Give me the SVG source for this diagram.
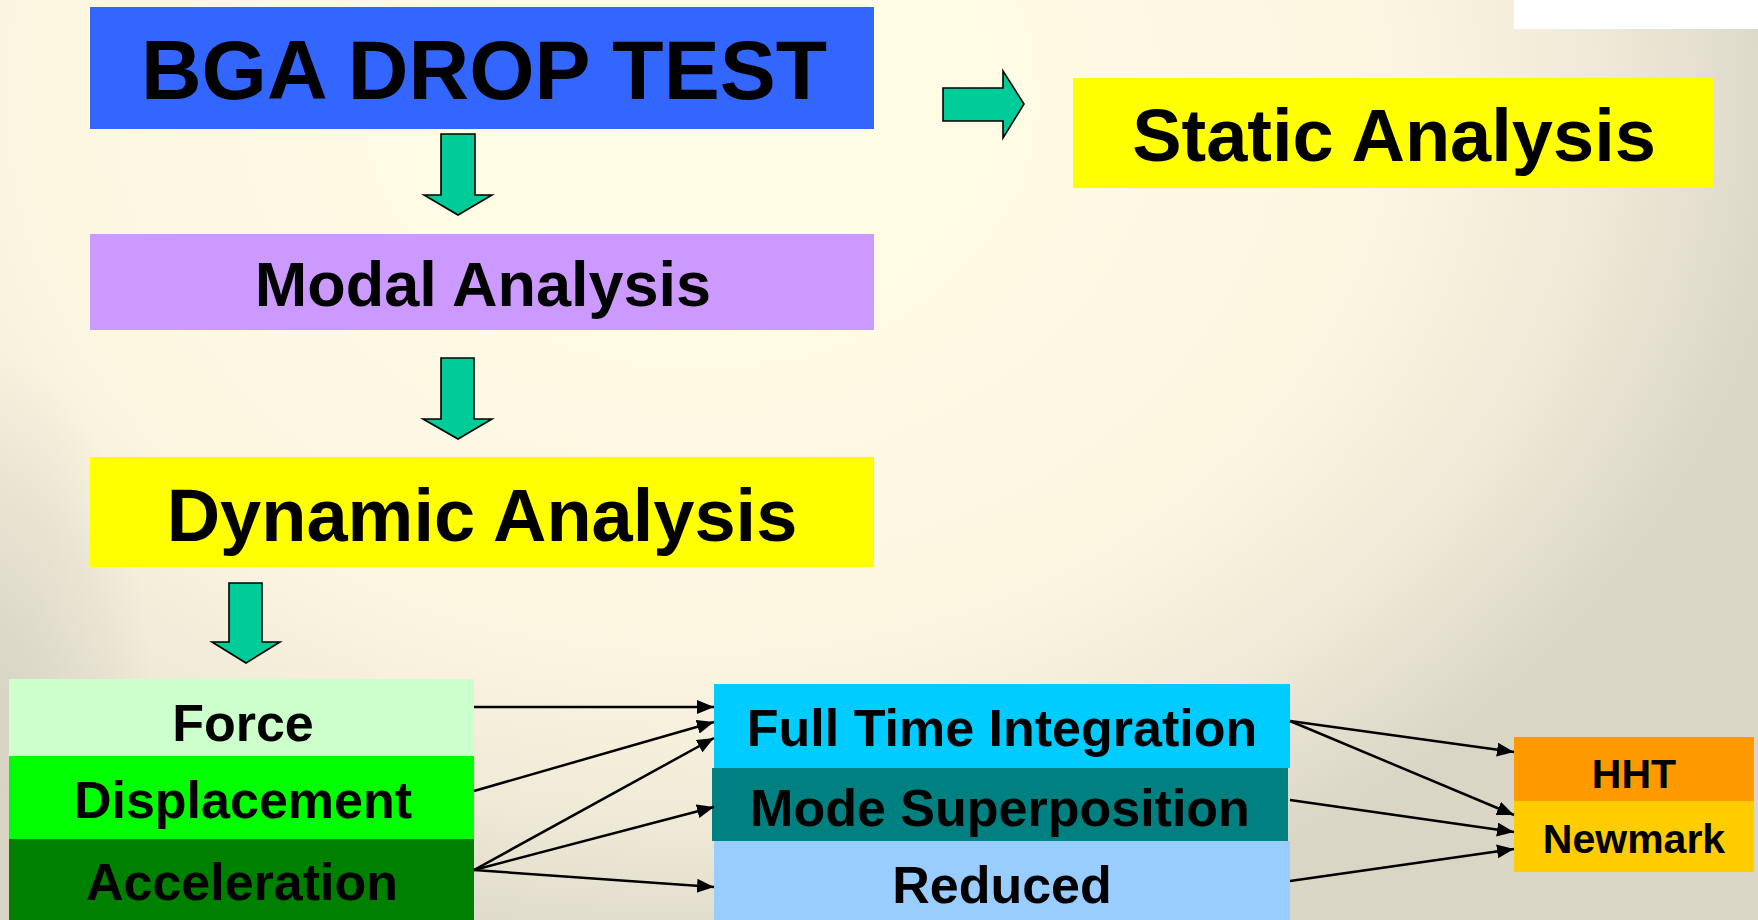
<svg xmlns="http://www.w3.org/2000/svg" width="1758" height="920" viewBox="0 0 1758 920">
<defs>
<radialGradient id="bg" gradientUnits="userSpaceOnUse" cx="700" cy="100" r="1100" gradientTransform="translate(700,100) scale(1,0.8) translate(-700,-100)">
<stop offset="0" stop-color="#FFFDE6"/>
<stop offset="0.6" stop-color="#FDF7E2"/>
<stop offset="0.82" stop-color="#EFE9D7"/>
<stop offset="1" stop-color="#DAD6C6"/>
</radialGradient>
<radialGradient id="lf" cx="0.5" cy="0.5" r="0.5">
<stop offset="0" stop-color="#D8D4C4" stop-opacity="0.85"/>
<stop offset="1" stop-color="#D8D4C4" stop-opacity="0"/>
</radialGradient>
<marker id="ah" markerUnits="userSpaceOnUse" markerWidth="18" markerHeight="16" refX="17" refY="7" orient="auto">
<path d="M0,0 L17,7 L0,14 Z" fill="#000"/>
</marker>
<style>
.t{font-family:"Liberation Sans",Arial,sans-serif;font-weight:bold;fill:#000;text-anchor:middle}
.blk{fill:#00CC99;stroke:#000;stroke-width:1.6;stroke-linejoin:miter}
.c{stroke:#000;stroke-width:2.5;fill:none;marker-end:url(#ah)}
</style>
</defs>
<rect x="0" y="0" width="1758" height="920" fill="url(#bg)"/>
<ellipse cx="0" cy="690" rx="150" ry="330" fill="url(#lf)"/>
<rect x="1514" y="0" width="244" height="29" fill="#FFFFFF"/>

<g id="bga">
<rect x="90" y="7" width="784" height="122" fill="#3366FF"/>
<text class="t" x="484" y="99" font-size="84">BGA DROP TEST</text>
</g>
<g id="modal">
<rect x="90" y="234" width="784" height="96" fill="#CC99FF"/>
<text class="t" x="483" y="306" font-size="63">Modal Analysis</text>
</g>
<g id="static">
<rect x="1073" y="78" width="640" height="110" fill="#FFFF00"/>
<text class="t" x="1394" y="161" font-size="74">Static Analysis</text>
</g>
<g id="dynamic">
<rect x="90" y="457" width="784" height="110" fill="#FFFF00"/>
<text class="t" x="482" y="541" font-size="74">Dynamic Analysis</text>
</g>
<g id="force">
<rect x="9" y="679" width="465" height="77" fill="#CCFFCC"/>
<text class="t" x="243" y="741" font-size="52">Force</text>
</g>
<g id="displacement">
<rect x="9" y="756" width="465" height="83" fill="#00FF00"/>
<text class="t" x="243" y="818" font-size="52">Displacement</text>
</g>
<g id="acceleration">
<rect x="9" y="839" width="465" height="81" fill="#008000"/>
<text class="t" x="242" y="900" font-size="52">Acceleration</text>
</g>
<g id="fulltime">
<rect x="714" y="684" width="576" height="84" fill="#00CCFF"/>
<text class="t" x="1002" y="746" font-size="52">Full Time Integration</text>
</g>
<g id="modesup">
<rect x="712" y="768" width="576" height="73" fill="#008080"/>
<text class="t" x="1000" y="826" font-size="52">Mode Superposition</text>
</g>
<g id="reduced">
<rect x="714" y="841" width="576" height="79" fill="#99CCFF"/>
<text class="t" x="1002" y="903" font-size="52">Reduced</text>
</g>
<g id="hht">
<rect x="1514" y="737" width="240" height="64" fill="#FF9900"/>
<text class="t" x="1634" y="788" font-size="41">HHT</text>
</g>
<g id="newmark">
<rect x="1514" y="801" width="240" height="71" fill="#FFCC00"/>
<text class="t" x="1634" y="853" font-size="41">Newmark</text>
</g>

<g id="connectors">
<path class="blk" d="M441,134 H475 V195 H492 L458,215 L424,195 H441 Z"/>
<path class="blk" d="M441,358 H474 V419 H492 L458,439 L423,419 H441 Z"/>
<path class="blk" d="M229,583 H262 V642 H280 L246,663 L212,642 H229 Z"/>
<path class="blk" d="M943,88 H1003 V71 L1024,104 L1003,138 V121 H943 Z"/>
<line class="c" x1="474" y1="707" x2="714" y2="707"/>
<line class="c" x1="474" y1="791" x2="714" y2="722"/>
<line class="c" x1="474" y1="870" x2="714" y2="738"/>
<line class="c" x1="474" y1="870" x2="714" y2="807"/>
<line class="c" x1="474" y1="870" x2="714" y2="887"/>
<line class="c" x1="1290" y1="721" x2="1514" y2="752"/>
<line class="c" x1="1290" y1="721" x2="1514" y2="815"/>
<line class="c" x1="1290" y1="800" x2="1514" y2="832"/>
<line class="c" x1="1290" y1="881" x2="1514" y2="849"/>
</g>
</svg>
